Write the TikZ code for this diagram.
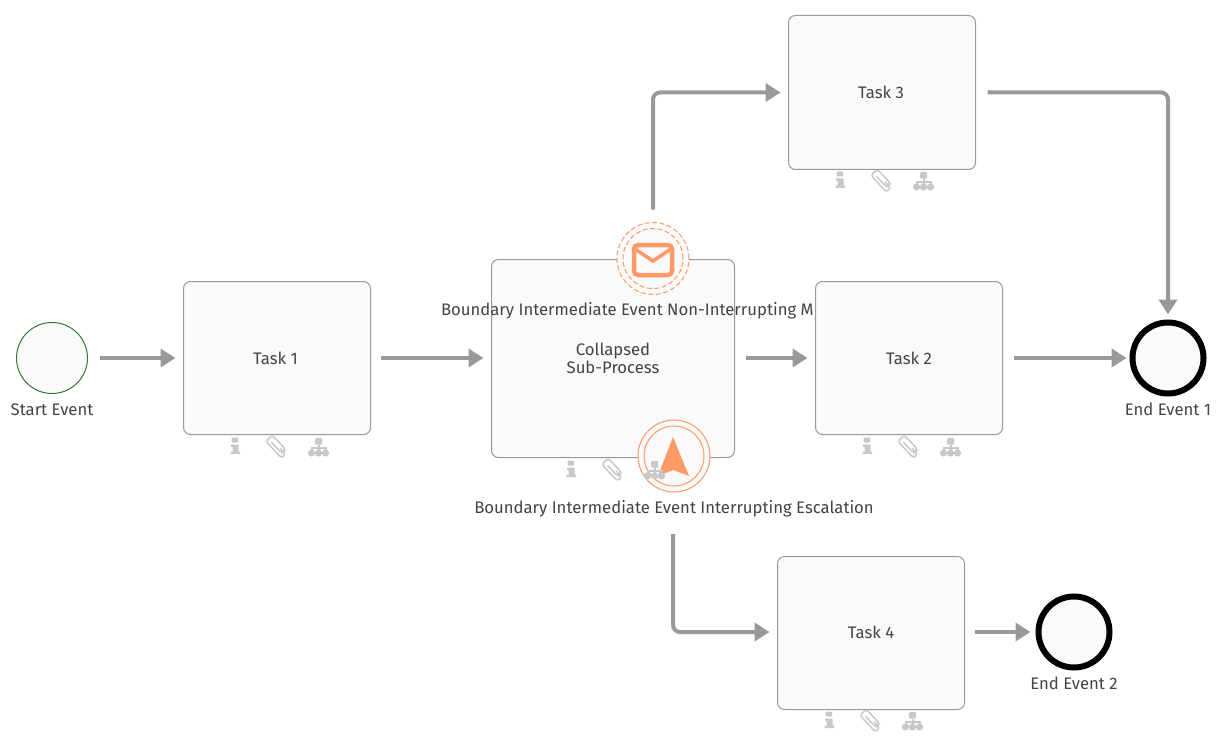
\documentclass[tikz,border=0pt]{standalone}
\usepackage{fontspec}
\setmainfont{Fira Sans}
\usetikzlibrary{arrows.meta}
\definecolor{boxline}{HTML}{999999}
\definecolor{boxfill}{HTML}{FAFAFA}
\definecolor{flow}{HTML}{999999}
\definecolor{orng}{HTML}{FF9966}
\definecolor{icon}{HTML}{C8C8C8}
\definecolor{txt}{HTML}{444444}
\definecolor{startgreen}{HTML}{2E7D32}
\tikzset{
  base/.style={inner sep=0pt,outer sep=0pt,text=txt,font=\fontsize{16.7pt}{18pt}\selectfont,align=center},
  taskbox/.style={base,draw=boxline,fill=boxfill,line width=1pt,rounded corners=7pt,minimum width=#1},
  lbl/.style={base,anchor=base},
  startev/.style={base,circle,draw=startgreen,fill=boxfill,line width=1pt,minimum size=71pt},
  endev/.style={base,circle,draw=black,fill=boxfill,line width=6pt,minimum size=71pt},
  boundary/.style={base,circle,draw=orng,line width=1pt,minimum size=#1},
  flowline/.style={draw=flow,line width=4pt,rounded corners=7pt,
    -{Triangle[length=15pt,width=18pt]},shorten >=8pt},
  taskicons/.pic={
    \fill[icon,rounded corners=1pt] (-45.5,-9) rectangle (-39,-4);
    \fill[icon] (-46,-2) -- (-38.5,-2) -- (-38.5,5) -- (-37,5) -- (-37,7.5) -- (-46.5,7.5) -- (-46.5,5) -- (-44.5,5) -- (-44.5,0.5) -- (-46,0.5) -- cycle;
    \begin{scope}[rotate=-47]
      \draw[icon,line width=1.5pt,rounded corners=2.8pt] (-7,1.2) -- (8,1.2) -- (8,-4.2) -- (-11.5,-4.2) -- (-11.5,4.6) -- (11.5,4.6) -- (11.5,-1.2) -- (3,-1.2);
    \end{scope}
    \fill[icon,rounded corners=1pt] (38,-8.5) rectangle (45,-2);
    \draw[icon,line width=2pt] (41.5,-2) -- (41.5,4) (34.5,4) -- (34.5,1.5) -- (48.5,1.5) -- (48.5,4);
    \fill[icon] (34.5,6.5) circle[radius=3.6pt] (41.5,6.5) circle[radius=3.6pt] (48.5,6.5) circle[radius=3.6pt];
  }
}
\begin{document}
\begin{tikzpicture}[x=1pt,y=-1pt]
\useasboundingbox (0,0) rectangle (1225,738);
\fill[white] (0,0) rectangle (1225,738);

\node[startev] (start) at (52,358) {};
\node[lbl] (startl) at (52,415) {Start Event};
\node[taskbox=187pt,minimum height=153pt] (task1) at (277,358) {\hspace*{-3pt}Task 1};

\node[taskbox=243pt,minimum height=198pt] (sub) at (613,358.5) {Collapsed\\Sub-Process};

\node[lbl,anchor=base west] (msgl) at (441,315.5) {Boundary Intermediate Event Non-Interrupting M};
\node[taskbox=187pt,minimum height=153pt] (task2) at (909,358) {Task 2};
\node[taskbox=187pt,minimum height=154pt] (task3) at (882,92.5) {\hspace*{-2pt}Task 3};
\node[taskbox=187pt,minimum height=153pt] (task4) at (871,633) {\raisebox{1pt}{Task 4}};

\node[endev] (end1) at (1168,358) {};
\node[lbl] (end1l) at (1168,415) {End Event 1};
\node[endev] (end2) at (1074,632) {};
\node[lbl] (end2l) at (1074,689) {End Event 2};

% boundary message event
\node[boundary=72pt,fill=boxfill,dashed,dash pattern=on 5pt off 2.5pt] (msg) at (653,258.5) {};
\node[boundary=60pt,dashed,dash pattern=on 5pt off 2.5pt] (msgin) at (653,258.5) {};
\draw[orng,line width=4.5pt,rounded corners=4pt] (634,245) rectangle (672,275);
\draw[orng,line width=3.5pt] (635,249) -- (653,261) -- (671,249);

% boundary escalation event
\node[boundary=72pt,fill=boxfill] (esc) at (674,456) {};
\node[boundary=60pt] (escin) at (674,456) {};
\fill[orng] (673,437) -- (689,476) -- (673,470) -- (658,476) -- cycle;
\node[lbl] (escl) at (674,513.5) {Boundary Intermediate Event Interrupting Escalation};

\pic[yshift=-12pt] at (task1.south) {taskicons};
\pic[yshift=-12pt] at (sub.south) {taskicons};
\pic[yshift=-11pt] at (task3.south) {taskicons};
\pic[yshift=-12pt] at (task2.south) {taskicons};
\pic[yshift=-11pt] at (task4.south) {taskicons};

\draw[flowline,shorten <=12pt] (start.east) -- (task1.west);
\draw[flowline,shorten <=10pt] (task1.east) -- (task1.east -| sub.west);
\draw[flowline,shorten <=11pt] (sub.east |- task2.west) -- (task2.west);
\draw[flowline,shorten <=11pt,shorten >=6pt] (task2.east) -- (end1.west);
\draw[flowline,shorten <=10pt,shorten >=8pt] (task4.east |- end2.west) -- (end2.west);
\draw[flowline,shorten <=13pt] (msg.north) |- (task3.west);
\draw[flowline,shorten <=12pt,shorten >=8pt] (task3.east) -| (end1.north);
\draw[flowline,shorten <=42pt] (esc.south -| 673,0) |- (task4.west |- end2.west);
\end{tikzpicture}
\end{document}
